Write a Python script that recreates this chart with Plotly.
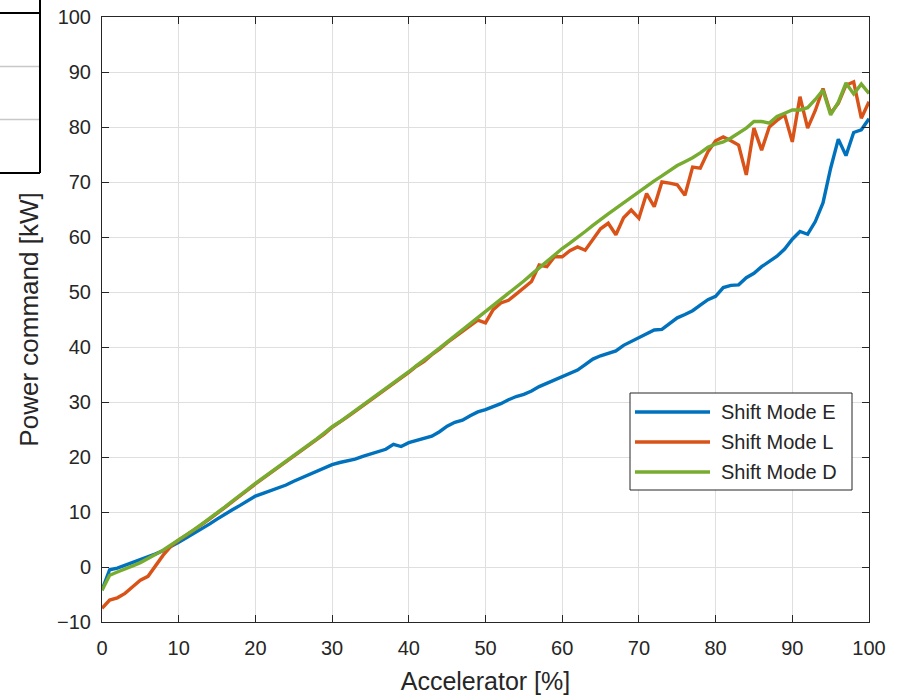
import plotly.graph_objects as go

accel = list(range(0, 101))

mode_e = [-4.2, -0.5, -0.2, 0.3, 0.8, 1.4, 1.9, 2.4, 3.0, 3.7,
          4.5, 5.3, 6.1, 6.9, 7.8, 8.7, 9.6, 10.4, 11.2, 12.0,
          12.9, 13.4, 13.9, 14.4, 14.9, 15.6, 16.2, 16.7, 17.3, 17.9,
          18.6, 19.0, 19.3, 19.6, 20.1, 20.5, 20.9, 21.4, 22.3, 21.9,
          22.6, 23.0, 23.4, 23.8, 24.6, 25.6, 26.3, 26.7, 27.5, 28.2,
          28.6, 29.1, 29.7, 30.4, 31.0, 31.4, 32.0, 32.8, 33.4, 34.0,
          34.6, 35.2, 35.8, 36.8, 37.8, 38.4, 38.9, 39.3, 40.3, 41.0,
          41.7, 42.4, 43.1, 43.2, 44.2, 45.3, 45.9, 46.6, 47.6, 48.6,
          49.2, 50.8, 51.2, 51.3, 52.6, 53.4, 54.6, 55.6, 56.5, 57.8,
          59.6, 61.0, 60.5, 62.8, 66.2, 72.5, 77.8, 74.8, 79.0, 79.5,
          81.5]

mode_l = [-7.5, -6.0, -5.6, -4.8, -3.6, -2.4, -1.7, 0.3, 2.2, 3.8,
          4.9, 5.8, 6.7, 7.7, 8.7, 9.7, 10.8, 11.9, 12.9, 14.0,
          15.1, 16.1, 17.1, 18.1, 19.2, 20.2, 21.2, 22.2, 23.1, 24.2,
          25.4, 26.3, 27.3, 28.3, 29.3, 30.4, 31.4, 32.3, 33.4, 34.4,
          35.4, 36.5, 37.4, 38.6, 39.6, 40.8, 41.8, 42.9, 43.9, 44.9,
          44.4, 46.8, 48.0, 48.5, 49.6, 50.8, 51.9, 54.9, 54.6, 56.4,
          56.4, 57.5, 58.2, 57.6, 59.5, 61.5, 62.5, 60.4, 63.5, 64.9,
          63.4, 67.9, 65.5, 70.0, 69.8, 69.5, 67.6, 72.7, 72.5, 75.5,
          77.5, 78.2, 77.5, 76.7, 71.3, 79.8, 75.8, 80.0, 81.2, 82.2,
          77.3, 85.5, 79.8, 83.0, 87.0, 82.5, 84.3, 87.6, 88.2, 81.6,
          84.6]

mode_d = [-4.2, -1.5, -0.9, -0.4, 0.2, 0.8, 1.5, 2.3, 3.1, 4.0,
          4.9, 5.8, 6.8, 7.8, 8.8, 9.8, 10.9, 12.0, 13.0, 14.1,
          15.2, 16.2, 17.2, 18.2, 19.3, 20.3, 21.3, 22.3, 23.3, 24.4,
          25.5, 26.4, 27.4, 28.4, 29.4, 30.5, 31.5, 32.5, 33.5, 34.5,
          35.5, 36.6, 37.6, 38.7, 39.8, 40.9, 42.0, 43.1, 44.2, 45.3,
          46.4, 47.5, 48.6, 49.7, 50.9, 52.0, 53.2, 54.4, 55.6, 56.8,
          57.9, 58.9, 59.9, 61.0, 62.1, 63.2, 64.2, 65.2, 66.2, 67.2,
          68.2, 69.3, 70.2, 71.1, 72.0, 73.0, 73.7, 74.4, 75.3, 76.3,
          76.9, 77.3, 78.0, 78.9, 79.8, 81.0, 81.0, 80.7, 81.9, 82.5,
          83.1, 83.1, 83.5, 85.0, 86.7, 82.2, 84.5, 88.0, 86.0, 87.8,
          86.1]

series_names = ["Shift Mode E", "Shift Mode L", "Shift Mode D"]
series_colors = ["#0072BD", "#D95319", "#77AC30"]

x_ticks = list(range(0, 101, 10))
y_ticks = list(range(-10, 101, 10))

fig = go.Figure()
for name, vals, col in zip(series_names, [mode_e, mode_l, mode_d], series_colors):
    fig.add_trace(go.Scatter(x=accel, y=vals, mode="lines", name=name,
                             line=dict(color=col, width=3.4), showlegend=False))

axis_common = dict(showgrid=True, gridcolor="#dfdfdf", gridwidth=1,
                   showline=True, linecolor="#262626", linewidth=1,
                   mirror="ticks", ticks="inside", ticklen=7, tickcolor="#262626",
                   zeroline=False, automargin=False,
                   tickfont=dict(size=20, color="#262626"))

fig.update_xaxes(range=[0, 100], tickvals=x_ticks, ticklabelstandoff=8,
                 title=dict(text="Accelerator [%]", font=dict(size=25, color="#262626"), standoff=14),
                 **axis_common)
fig.update_yaxes(range=[-10, 100], tickvals=y_ticks, ticklabelstandoff=6,
                 title=dict(text="Power command [kW]", font=dict(size=26, color="#262626"), standoff=10),
                 **axis_common)


def px(xp):
    return (xp - 102) / 767.0


def py(yp):
    return (622 - yp) / 605.0


# cropped table fragment at the top-left of the original image
shapes = [
    dict(type="line", xref="paper", yref="paper", x0=px(-5), x1=px(40), y0=py(13), y1=py(13),
         line=dict(color="black", width=2)),
    dict(type="line", xref="paper", yref="paper", x0=px(-5), x1=px(40), y0=py(66.5), y1=py(66.5),
         line=dict(color="#c8c8c8", width=1.5)),
    dict(type="line", xref="paper", yref="paper", x0=px(-5), x1=px(40), y0=py(119.5), y1=py(119.5),
         line=dict(color="#c8c8c8", width=1.5)),
    dict(type="line", xref="paper", yref="paper", x0=px(-5), x1=px(40), y0=py(173), y1=py(173),
         line=dict(color="black", width=2)),
    dict(type="line", xref="paper", yref="paper", x0=px(40), x1=px(40), y0=py(-5), y1=py(173),
         line=dict(color="black", width=2)),
]

# legend box (drawn to match the long MATLAB-style line samples)
shapes.append(dict(type="rect", xref="paper", yref="paper",
                   x0=px(630), x1=px(852), y0=py(490), y1=py(393),
                   fillcolor="white", line=dict(color="#262626", width=1), layer="above"))
annotations = []
for i, (name, col) in enumerate(zip(series_names, series_colors)):
    yy = 412 + 30 * i
    shapes.append(dict(type="line", xref="paper", yref="paper",
                       x0=px(635), x1=px(710), y0=py(yy), y1=py(yy),
                       line=dict(color=col, width=3.4), layer="above"))
    annotations.append(dict(xref="paper", yref="paper", x=px(719), y=py(yy),
                            xanchor="left", yanchor="middle", showarrow=False,
                            text=name, font=dict(size=20, color="#262626")))

fig.update_layout(
    width=901, height=695,
    margin=dict(l=102, r=32, t=17, b=73),
    paper_bgcolor="white", plot_bgcolor="white",
    font=dict(family="Liberation Sans, Arial, sans-serif", color="#262626"),
    showlegend=False,
    shapes=shapes,
    annotations=annotations,
)

fig.write_html("out.html")
